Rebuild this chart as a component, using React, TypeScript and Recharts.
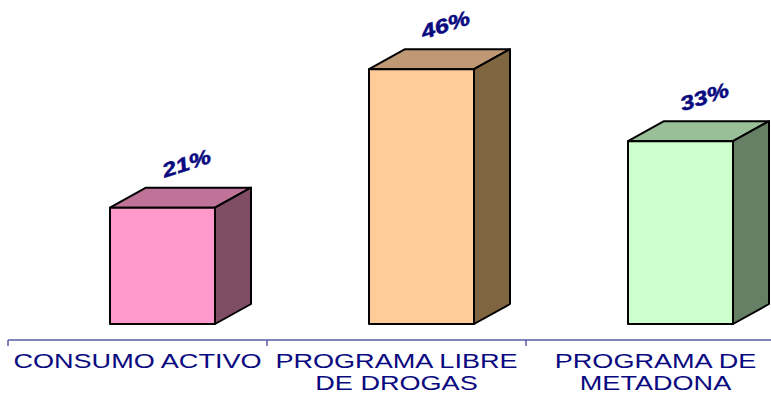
import { BarChart, Bar, XAxis, YAxis, LabelList } from 'recharts';

const categories = ['CONSUMO ACTIVO', 'PROGRAMA LIBRE\nDE DROGAS', 'PROGRAMA DE\nMETADONA'];
const values = [21, 46, 33];
const frontColors = ['#FF99CC', '#FFCC99', '#CCFFCC'];
const topColors = ['#BF7399', '#BF9973', '#99BF99'];
const sideColors = ['#804D66', '#806640', '#668066'];

const data = categories.map((name, i) => ({ name, value: values[i] }));

const CHART_W = 790;
const CHART_H = 394;
const MARGIN = { top: 63, right: 5, bottom: 4, left: 8 };
const BAND = (CHART_W - MARGIN.left - MARGIN.right) / categories.length;

// 3D look: depth of the box and how far the bar stands back from the front axis
const DX = 36;
const DY = 20;
const FLOOR_DX = 25;
const FLOOR_DY = 16;

const NAVY = '#0A0A80';
const AXIS_COLOR = '#5A5AA8';

function Box3D(props: any) {
  const { x, y, width, height, index } = props;
  const fx = x + FLOOR_DX;
  const fy = y - FLOOR_DY;
  const bottom = fy + height;
  const right = fx + width;
  return (
    <g stroke="#000" strokeWidth={2} strokeLinejoin="round">
      <polygon
        points={`${fx},${fy} ${fx + DX},${fy - DY} ${right + DX},${fy - DY} ${right},${fy}`}
        fill={topColors[index]}
      />
      <polygon
        points={`${right},${fy} ${right + DX},${fy - DY} ${right + DX},${bottom - DY} ${right},${bottom}`}
        fill={sideColors[index]}
      />
      <rect x={fx} y={fy} width={width} height={height} fill={frontColors[index]} />
    </g>
  );
}

function ValueLabel(props: any) {
  const { x, y, width, value } = props;
  const cx = x + FLOOR_DX + (width + DX) / 2 + 6;
  const cy = y - FLOOR_DY - DY - 24;
  return (
    <text
      transform={`translate(${cx},${cy}) rotate(-18) scale(1.25,1)`}
      textAnchor="middle"
      dominantBaseline="central"
      fill={NAVY}
      stroke={NAVY}
      strokeWidth={0.5}
      fontFamily="'Liberation Sans', Arial, sans-serif"
      fontWeight="bold"
      fontStyle="italic"
      fontSize={20}
    >
      {value}%
    </text>
  );
}

function CategoryTick(props: any) {
  const { x, y, payload } = props;
  const lines = String(payload.value).split('\n');
  const left = x - BAND / 2;
  return (
    <g>
      <line x1={left} x2={left} y1={y} y2={y + 6} stroke={AXIS_COLOR} strokeWidth={1.5} />
      {lines.map((line, i) => (
        <text
          key={i}
          transform={`translate(${x},${y + 28 + i * 22}) scale(1.29,1)`}
          textAnchor="middle"
          fill={NAVY}
          fontFamily="'Liberation Sans', Arial, sans-serif"
          fontSize={21}
        >
          {line}
        </text>
      ))}
    </g>
  );
}

export default function App() {
  return (
    <div
      style={{
        position: 'absolute',
        left: 0,
        top: 0,
        width: 771,
        height: 394,
        overflow: 'hidden',
        background: '#fff',
      }}
    >
      <BarChart width={CHART_W} height={CHART_H} data={data} margin={MARGIN}>
        <XAxis
          dataKey="name"
          height={50}
          interval={0}
          tickLine={false}
          tickSize={0}
          tickMargin={0}
          axisLine={{ stroke: AXIS_COLOR, strokeWidth: 1.5 }}
          tick={<CategoryTick />}
        />
        <YAxis hide domain={[0, 50]} />
        <Bar dataKey="value" barSize={105} shape={<Box3D />} isAnimationActive={false}>
          <LabelList dataKey="value" content={<ValueLabel />} />
        </Bar>
      </BarChart>
    </div>
  );
}
